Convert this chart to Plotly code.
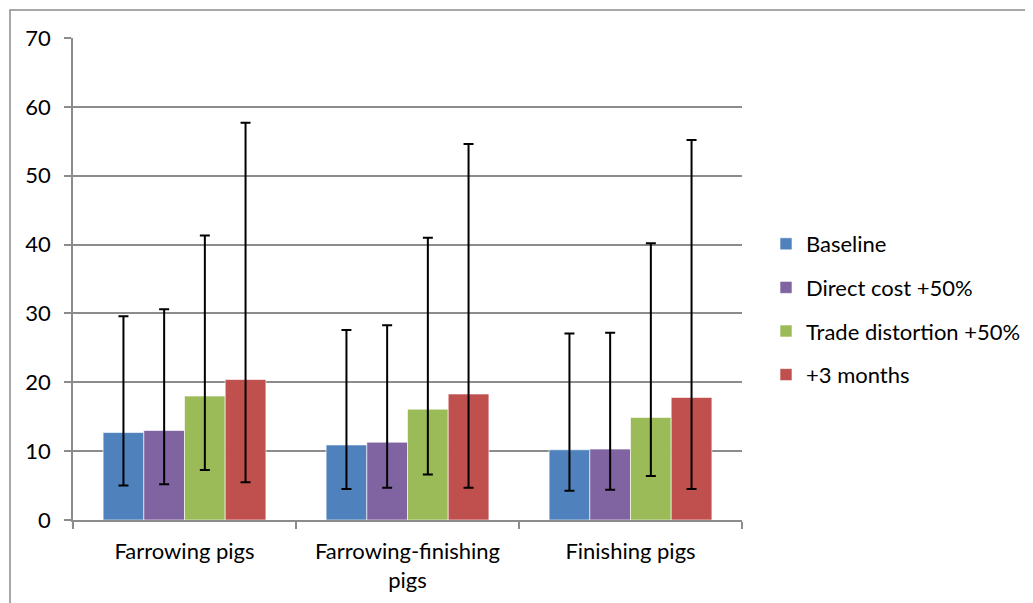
import plotly.graph_objects as go

categories = ["Farrowing pigs", "Farrowing-finishing<br>pigs", "Finishing pigs"]
series_names = ["Baseline", "Direct cost +50%", "Trade distortion +50%", "+3 months"]
colors = ["#4F81BD", "#8064A2", "#9BBB59", "#C0504D"]

baseline = [12.7, 10.9, 10.2]
direct_cost = [13.0, 11.3, 10.3]
trade_distortion = [18.0, 16.1, 14.9]
plus_3_months = [20.4, 18.3, 17.8]

baseline_low = [5.0, 4.5, 4.25]
direct_cost_low = [5.2, 4.7, 4.4]
trade_distortion_low = [7.25, 6.6, 6.4]
plus_3_months_low = [5.5, 4.7, 4.5]

baseline_high = [29.6, 27.6, 27.1]
direct_cost_high = [30.6, 28.3, 27.2]
trade_distortion_high = [41.3, 41.0, 40.2]
plus_3_months_high = [57.7, 54.6, 55.2]

values = [baseline, direct_cost, trade_distortion, plus_3_months]
lows = [baseline_low, direct_cost_low, trade_distortion_low, plus_3_months_low]
highs = [baseline_high, direct_cost_high, trade_distortion_high, plus_3_months_high]

FONT = "Lato"
fig = go.Figure()
for i, name in enumerate(series_names):
    v = values[i]
    fig.add_trace(go.Bar(
        x=categories, y=v, name=name, legendgroup=name,
        marker=dict(color=colors[i], line=dict(color="rgba(255,255,255,0.6)", width=1)),
        error_y=dict(type="data", symmetric=False,
                     array=[h - y for h, y in zip(highs[i], v)],
                     arrayminus=[y - l for y, l in zip(v, lows[i])],
                     color="black", thickness=2, width=5),
    ))

OFF = 8  # page body offset
L, T = 73 - OFF, 38 - OFF
R = 1033 - (742 - OFF)
B = 603 - (520 - OFF)
PW, PH = 1033 - L - R, 603 - T - B


def px(x):
    return (x - OFF - L) / PW


def py(y):
    return (520 - y) / PH


fig.update_layout(
    width=1033, height=603,
    margin=dict(l=L, r=R, t=T, b=B),
    paper_bgcolor="white", plot_bgcolor="white",
    barmode="group", bargap=0.27, bargroupgap=0,
    font=dict(family=FONT, size=22, color="black"),
    legend=dict(x=px(766), y=py(223), xanchor="left", yanchor="top",
                font=dict(family=FONT, size=22), tracegroupgap=12, traceorder="grouped",
                itemwidth=30),
    showlegend=True,
    xaxis=dict(showline=True, linecolor="#8c8c8c", linewidth=1.5,
               ticks="outside", tickson="boundaries", ticklen=7, tickcolor="#8c8c8c",
               tickwidth=1.5, showgrid=False, tickfont=dict(size=22), ticklabelstandoff=11),
    yaxis=dict(range=[0, 70], dtick=10, showline=True, linecolor="#8c8c8c", linewidth=1.5,
               ticks="outside", ticklen=7, tickcolor="#8c8c8c", tickwidth=1.5,
               showgrid=True, gridcolor="#8c8c8c", gridwidth=1.5, zeroline=False,
               tickfont=dict(size=22), ticklabelstandoff=9),
    shapes=[dict(type="rect", xref="paper", yref="paper",
                 x0=px(10), x1=px(1200),
                 y0=py(800), y1=py(10),
                 line=dict(color="#8c8c8c", width=1.5), fillcolor="rgba(0,0,0,0)", layer="below")],
)

fig.write_html("out.html")
